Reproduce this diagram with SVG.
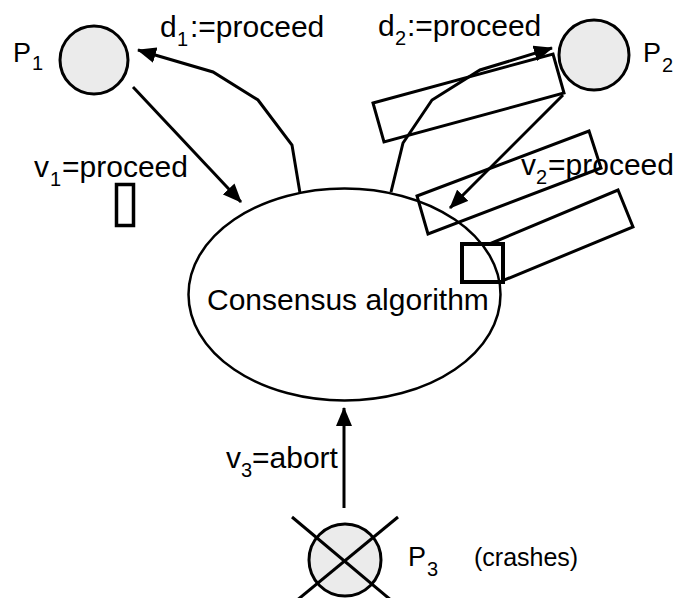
<svg xmlns="http://www.w3.org/2000/svg" width="680" height="598" viewBox="0 0 680 598">
  <defs>
    <marker id="arrow" markerUnits="userSpaceOnUse" markerWidth="19" markerHeight="16" refX="18" refY="8" orient="auto">
      <path d="M0,0 L19,8 L0,16 z" fill="#000"/>
    </marker>
    <style>
      .lbl { font-family: "Liberation Sans", Arial, sans-serif; font-size: 30px; fill: #000; }
      .name { font-family: "Liberation Sans", Arial, sans-serif; font-size: 27px; fill: #000; }
      .note { font-family: "Liberation Sans", Arial, sans-serif; font-size: 25px; fill: #000; }
      .sub { font-family: "Liberation Sans", Arial, sans-serif; font-size: 20px; fill: #000; }
      .proc { fill: #ebebeb; stroke: #000; stroke-width: 3; }
      .edge { fill: none; stroke: #000; stroke-width: 3; stroke-linejoin: miter; }
      .box { fill: none; stroke: #000; stroke-width: 3; }
    </style>
  </defs>
  <rect width="680" height="598" fill="#fff"/>

  <!-- stray boxes drawn underneath -->
  <g id="boxes-under">
    <polygon class="box" points="487,245 618,190 633,227 502,281"/>
    <rect x="462" y="244" width="41" height="38" fill="#fff" stroke="#000" stroke-width="4"/>
  </g>

  <!-- consensus algorithm -->
  <g id="consensus">
    <ellipse cx="344.5" cy="294.5" rx="156" ry="106" fill="none" stroke="#000" stroke-width="2.5"/>
    <text class="lbl" x="207" y="310">Consensus algorithm</text>
  </g>

  <!-- connectors -->
  <g id="connectors">
    <line class="edge" x1="133" y1="87" x2="241" y2="202" marker-end="url(#arrow)"/>
    <polyline class="edge" points="300,193 292,145 258,100 213,72 138,50" marker-end="url(#arrow)"/>
    <polyline class="edge" points="391,192 403,143 432,100 480,70 552,48" marker-end="url(#arrow)"/>
    <line class="edge" x1="563" y1="95" x2="450" y2="208" marker-end="url(#arrow)"/>
    <line class="edge" x1="344" y1="508" x2="344" y2="408" marker-end="url(#arrow)"/>
  </g>

  <!-- process P1 -->
  <g id="p1">
    <circle class="proc" cx="94" cy="60" r="34"/>
    <text class="name" x="13" y="62">P</text>
    <text class="sub" x="32" y="70">1</text>
  </g>

  <!-- process P2 -->
  <g id="p2">
    <circle class="proc" cx="594" cy="55" r="35"/>
    <text class="name" x="643" y="62">P</text>
    <text class="sub" x="662" y="72">2</text>
  </g>

  <!-- process P3, crashed -->
  <g id="p3">
    <circle class="proc" cx="345" cy="560" r="36"/>
    <line x1="292" y1="517" x2="398" y2="606" stroke="#000" stroke-width="3"/>
    <line x1="398" y1="517" x2="290" y2="606" stroke="#000" stroke-width="3"/>
    <text class="name" x="408" y="566">P</text>
    <text class="sub" x="427" y="576">3</text>
    <text class="note" x="474" y="566">(crashes)</text>
  </g>

  <!-- stray boxes drawn on top -->
  <g id="boxes-over">
    <polygon class="box" points="373,103 553,54 564,93 384,142"/>
    <polygon class="box" points="417,196 589,131 601,168 428,234"/>
    <rect x="116.5" y="184.5" width="17" height="41" fill="none" stroke="#000" stroke-width="3.5"/>
  </g>

  <!-- edge labels -->
  <g id="labels">
    <text class="lbl" x="160" y="37">d</text>
    <text class="sub" x="177" y="46">1</text>
    <text class="lbl" x="190" y="37">:=proceed</text>

    <text class="lbl" x="378" y="36">d</text>
    <text class="sub" x="395" y="45">2</text>
    <text class="lbl" x="407" y="36">:=proceed</text>

    <text class="lbl" x="34" y="177">v</text>
    <text class="sub" x="50" y="186">1</text>
    <text class="lbl" x="62" y="177">=proceed</text>

    <text class="lbl" x="521" y="175">v</text>
    <text class="sub" x="536" y="184">2</text>
    <text class="lbl" x="548" y="175">=proceed</text>

    <text class="lbl" x="226" y="468">v</text>
    <text class="sub" x="241" y="477">3</text>
    <text class="lbl" x="252" y="468">=abort</text>
  </g>
</svg>
